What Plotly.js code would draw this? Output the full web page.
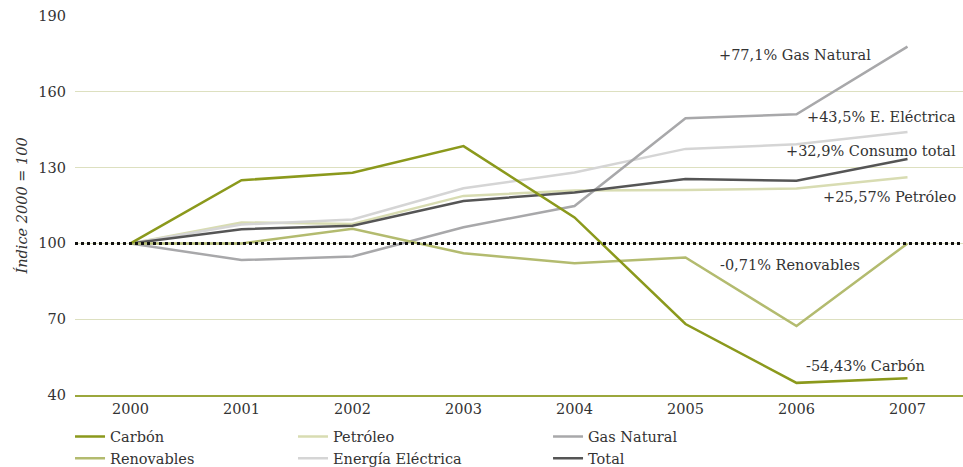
<!DOCTYPE html>
<html>
<head>
<meta charset="utf-8">
<script src="https://cdn.plot.ly/plotly-3.0.1.min.js"></script>
<style>html,body{margin:0;padding:0;background:#fff}#chart{width:963px;height:467px}</style>
</head>
<body>
<div id="chart"></div>
<script>
const years = [2000, 2001, 2002, 2003, 2004, 2005, 2006, 2007];
const carbon = [100, 125, 128, 138.5, 110.3, 68.1, 44.8, 46.6];
const petroleo = [100, 108.3, 107.7, 118.8, 120.9, 121.1, 121.7, 126.2];
const gasNatural = [100, 93.4, 94.8, 106.4, 114.8, 149.5, 151.1, 177.9];
const renovables = [100, 100, 105.8, 96.1, 92.1, 94.4, 67.3, 100];
const energiaElectrica = [100, 107.5, 109.5, 121.8, 128.1, 137.4, 139.2, 144.1];
const total = [100, 105.6, 107, 116.8, 120.1, 125.5, 124.8, 133.4];
const yTicks = [40, 70, 100, 130, 160, 190];
const baseline = 100;
const labelTexts = ["+77,1% Gas Natural", "+43,5% E. Eléctrica", "+32,9% Consumo total",
                    "+25,57% Petróleo", "-0,71% Renovables", "-54,43% Carbón"];

const FONT = "DejaVu Serif, serif";
const TXT = "#333333";

function tr(name, y, color, legend, rank) {
  return {x: years, y: y, name: name, type: "scatter", mode: "lines",
          line: {color: color, width: 2.5}, legend: legend, legendrank: rank,
          hoverinfo: "skip"};
}
const data = [
  tr("Petróleo", petroleo, "#d8dcb2", "legend2", 1),
  tr("Energía Eléctrica", energiaElectrica, "#d5d5d5", "legend2", 2),
  tr("Gas Natural", gasNatural, "#a8a8aa", "legend3", 1),
  tr("Total", total, "#555555", "legend3", 2),
  tr("Renovables", renovables, "#b3bb6f", "legend", 2),
  tr("Carbón", carbon, "#8b991c", "legend", 1)
];

const labelPos = [
  [0.8986, 0.897], [0.9944, 0.7335], [0.9944, 0.6438],
  [0.9944, 0.5224], [0.8863, 0.343], [0.9595, 0.0765]
];
const annotations = labelTexts.map((t, i) => ({
  text: t, xref: "paper", yref: "paper", x: labelPos[i][0], y: labelPos[i][1],
  xanchor: "right", yanchor: "middle", showarrow: false,
  font: {family: FONT, size: 14.5, color: TXT}
}));
annotations.push({
  text: "<i>Índice 2000 = 100</i>", xref: "paper", yref: "paper", x: -0.0597, y: 0.5,
  xanchor: "center", yanchor: "middle", textangle: -90, showarrow: false,
  font: {family: FONT, size: 14.5, color: TXT}
});

const legBase = {orientation: "v", yanchor: "top", xanchor: "left", y: -0.0673,
  tracegroupgap: 0, bgcolor: "rgba(0,0,0,0)", font: {family: FONT, size: 14.5, color: TXT},
  itemclick: false, itemdoubleclick: false};

const layout = {
  width: 963, height: 467,
  margin: {l: 75, r: 0, t: 16, b: 72, autoexpand: false},
  paper_bgcolor: "#fff", plot_bgcolor: "#fff",
  font: {family: FONT, size: 14.5, color: TXT},
  showlegend: true,
  legend: Object.assign({}, legBase, {x: -0.0056}),
  legend2: Object.assign({}, legBase, {x: 0.2455}),
  legend3: Object.assign({}, legBase, {x: 0.5327}),
  xaxis: {range: [1999.5, 2007.5], tickvals: years, ticktext: years.map(String),
          showgrid: false, zeroline: false, showline: true, linecolor: "#9ba73c",
          linewidth: 1.5, ticks: "", automargin: false,
          tickfont: {family: FONT, size: 14.5, color: TXT}},
  yaxis: {range: [40, 190], tickvals: yTicks, showgrid: true, gridcolor: "#dde0c0",
          gridwidth: 1.2, zeroline: false, showline: false, ticks: "", automargin: false,
          ticklabelstandoff: 8, tickfont: {family: FONT, size: 14.5, color: TXT}},
  shapes: [{type: "line", xref: "paper", x0: 0, x1: 1, yref: "y", y0: baseline, y1: baseline,
            line: {color: "#111", width: 3, dash: "dot"}, layer: "above"}],
  annotations: annotations
};

Plotly.newPlot("chart", data, layout, {staticPlot: true, displayModeBar: false});
</script>
</body>
</html>
